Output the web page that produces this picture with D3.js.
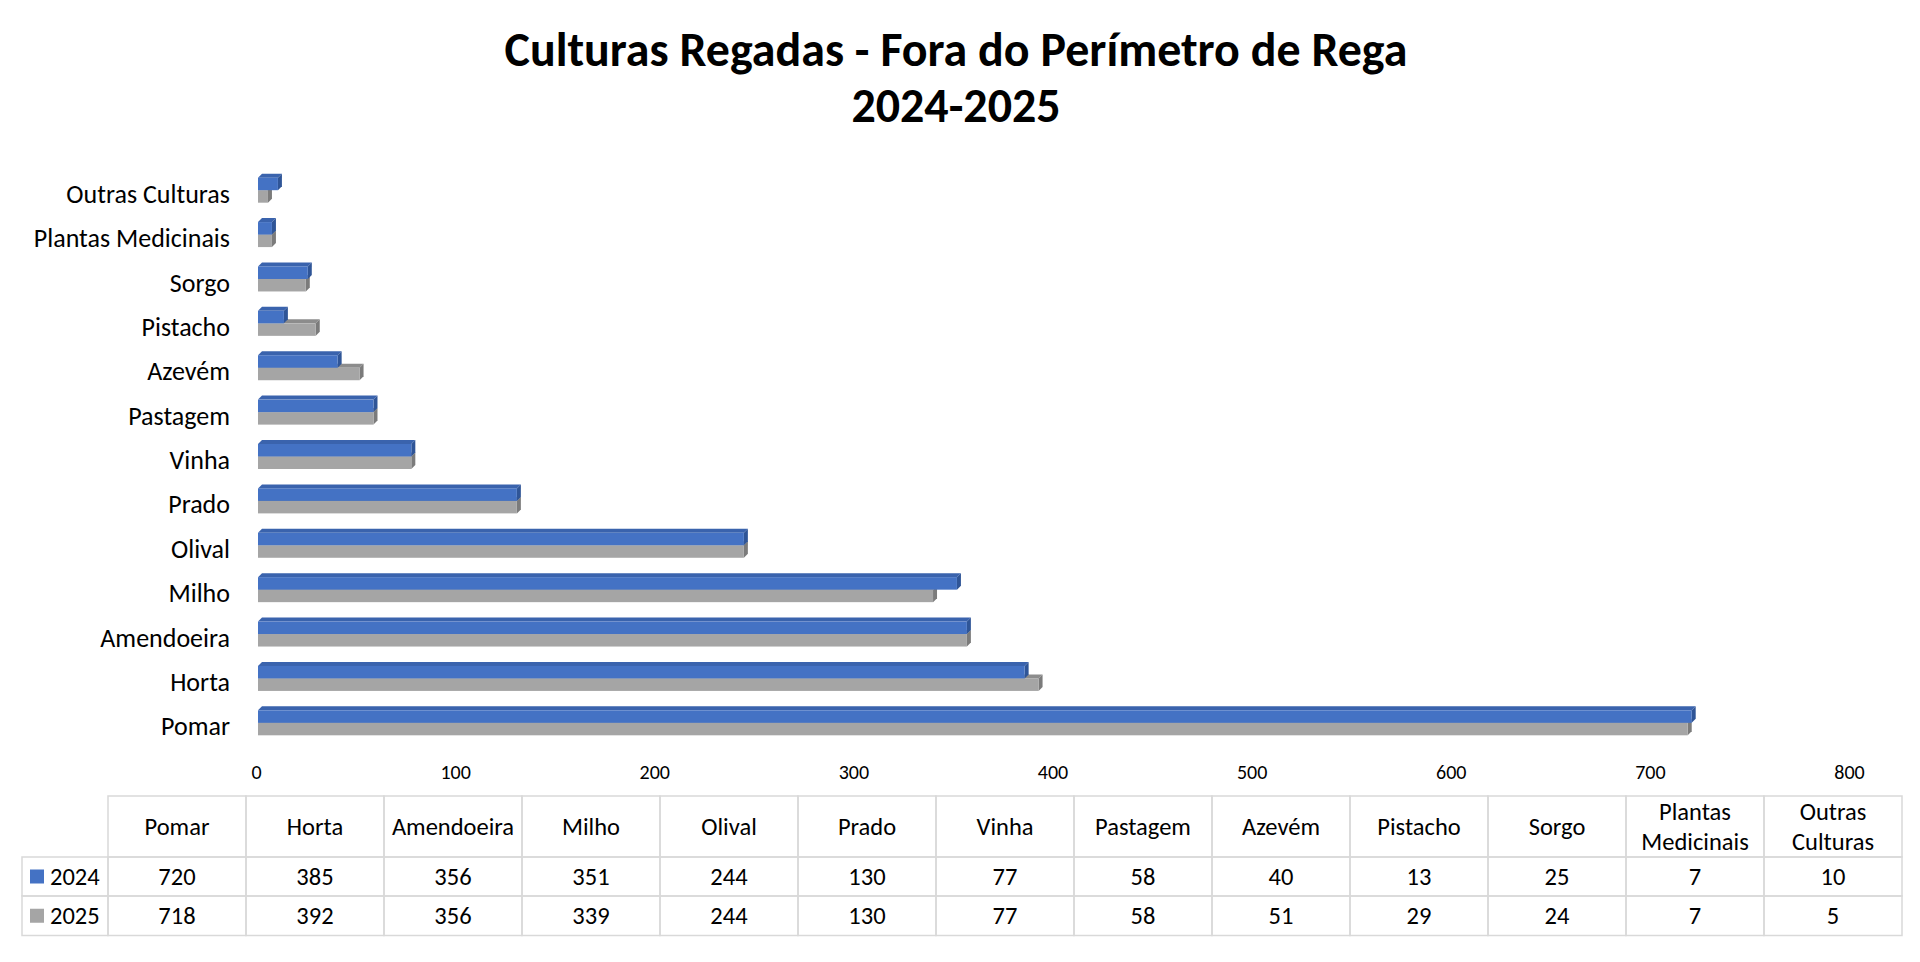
<!DOCTYPE html>
<html>
<head>
<meta charset="utf-8">
<script src="https://cdn.jsdelivr.net/npm/d3@7"></script>
<style>
  body { margin: 0; background: #fff; }
  text { font-family: Calibri, Carlito, Lato, sans-serif; fill: #000; }
</style>
</head>
<body>
<script>
let width = 1920,
    height = 962;

let categories = ["Pomar", "Horta", "Amendoeira", "Milho", "Olival", "Prado", "Vinha",
                  "Pastagem", "Azevém", "Pistacho", "Sorgo", "Plantas Medicinais", "Outras Culturas"];
let values2024 = [720, 385, 356, 351, 244, 130, 77, 58, 40, 13, 25, 7, 10];
let values2025 = [718, 392, 356, 339, 244, 130, 77, 58, 51, 29, 24, 7, 5];
let years = ["2024", "2025"];
let xTicks = [0, 100, 200, 300, 400, 500, 600, 700, 800];

let series = [
  {name: years[1], values: values2025, front: "#a5a5a5", top: "#8c8c8c", side: "#7b7b7b", off: 0},
  {name: years[0], values: values2024, front: "#4472c4", top: "#3a63ad", side: "#2f5597", off: -1}
];

let svg = d3.select("body")
            .append("svg")
            .attr("width", width)
            .attr("height", height);

// title, two lines
let title1 = svg.append("text")
    .attr("x", 956).attr("y", 66)
    .attr("text-anchor", "middle")
    .style("font-weight", "700")
    .style("font-size", "40px")
    .text("Culturas Regadas - Fora do Perímetro de Rega");
let k = 903 / title1.node().getComputedTextLength();
title1.style("font-size", (40 * k) + "px");

svg.append("text")
    .attr("x", 956).attr("y", 122)
    .attr("text-anchor", "middle")
    .style("font-weight", "700")
    .style("font-size", (40 * k) + "px")
    .text("2024-2025");

var xScale = d3.scaleLinear()
               .domain([0, 800])
               .range([256, 1849]);

var yScale = d3.scaleBand()
               .domain(categories)
               .range([748.5, 171.5]);

let bw = yScale.bandwidth();
let barH = 12.5,
    depth = 4;

// category labels
svg.append("g")
   .selectAll("text")
   .data(categories)
   .enter()
   .append("text")
   .attr("x", 230)
   .attr("y", function(d) { return yScale(d) + bw / 2; })
   .attr("dy", "0.35em")
   .attr("text-anchor", "end")
   .style("font-size", "26px")
   .text(function(d) { return d; });

// 3D-looking bars: front face, top face, right side face
series.forEach(function(s) {
  let g = svg.append("g");
  let rows = categories.map(function(c, i) {
    let bc = yScale(c) + bw / 2 - 3.5;
    let y0 = s.off < 0 ? bc - barH : bc;
    return {x0: xScale(0) + 2, x1: xScale(s.values[i]) + 2, y0: y0, y1: y0 + barH};
  });

  g.selectAll(".top")
   .data(rows)
   .enter()
   .append("path")
   .attr("fill", s.top)
   .attr("d", function(d) {
     return "M" + d.x0 + "," + d.y0 + "L" + (d.x0 + depth) + "," + (d.y0 - depth) +
            "L" + (d.x1 + depth) + "," + (d.y0 - depth) + "L" + d.x1 + "," + d.y0 + "Z";
   });

  g.selectAll(".side")
   .data(rows)
   .enter()
   .append("path")
   .attr("fill", s.side)
   .attr("d", function(d) {
     return "M" + d.x1 + "," + d.y0 + "L" + (d.x1 + depth) + "," + (d.y0 - depth) +
            "L" + (d.x1 + depth) + "," + (d.y1 - depth) + "L" + d.x1 + "," + d.y1 + "Z";
   });

  g.selectAll("rect")
   .data(rows)
   .enter()
   .append("rect")
   .attr("fill", s.front)
   .attr("x", function(d) { return d.x0; })
   .attr("y", function(d) { return d.y0; })
   .attr("width", function(d) { return d.x1 - d.x0; })
   .attr("height", barH);
});

// x axis, labels only
var xAxis = d3.axisBottom().scale(xScale).tickValues(xTicks).tickSize(0).tickPadding(0);
let ax = svg.append("g")
   .attr("transform", "translate(0,765)")
   .call(xAxis);
ax.select(".domain").remove();
ax.selectAll("text")
  .style("font-size", "20px")
  .style("font-family", "Calibri, Carlito, Lato, sans-serif")
  .attr("fill", "#000");

// data table under the chart
var colScale = d3.scaleBand()
                 .domain(categories)
                 .range([108, 1902]);
let cw = colScale.bandwidth();
let tLeft = 22,
    rowTops = [796, 857, 896, 935.5];
let border = "#d9d9d9";

let table = svg.append("g");

// header cells
table.selectAll(".hcell")
     .data(categories)
     .enter()
     .append("rect")
     .attr("x", function(d) { return colScale(d); })
     .attr("y", rowTops[0])
     .attr("width", cw)
     .attr("height", rowTops[1] - rowTops[0])
     .attr("fill", "none")
     .attr("stroke", border)
     .attr("stroke-width", 1.5);

table.selectAll(".htext")
     .data(categories)
     .enter()
     .append("text")
     .attr("text-anchor", "middle")
     .style("font-size", "24.5px")
     .each(function(d) {
       let words = d.split(" ");
       let cx = colScale(d) + cw / 2;
       let mid = (rowTops[0] + rowTops[1]) / 2;
       let t = d3.select(this);
       if (words.length === 1) {
         t.append("tspan").attr("x", cx).attr("y", mid).attr("dy", "0.35em").text(d);
       } else {
         t.append("tspan").attr("x", cx).attr("y", mid - 15).attr("dy", "0.35em").text(words[0]);
         t.append("tspan").attr("x", cx).attr("y", mid + 15).attr("dy", "0.35em").text(words[1]);
       }
     });

// value rows
[values2024, values2025].forEach(function(vals, r) {
  let top = rowTops[r + 1],
      bot = rowTops[r + 2],
      mid = (top + bot) / 2;
  let s = series[1 - r];

  table.append("rect")
       .attr("x", tLeft).attr("y", top)
       .attr("width", 108 - tLeft).attr("height", bot - top)
       .attr("fill", "none").attr("stroke", border).attr("stroke-width", 1.5);

  table.append("rect")
       .attr("x", 30).attr("y", mid - 7)
       .attr("width", 14).attr("height", 14)
       .attr("fill", s.front);

  table.append("text")
       .attr("x", 50).attr("y", mid).attr("dy", "0.35em")
       .style("font-size", "24.5px")
       .text(years[r]);

  table.selectAll(".cell" + r)
       .data(categories)
       .enter()
       .append("rect")
       .attr("x", function(d) { return colScale(d); })
       .attr("y", top)
       .attr("width", cw)
       .attr("height", bot - top)
       .attr("fill", "none")
       .attr("stroke", border)
       .attr("stroke-width", 1.5);

  table.selectAll(".val" + r)
       .data(categories)
       .enter()
       .append("text")
       .attr("x", function(d) { return colScale(d) + cw / 2; })
       .attr("y", mid)
       .attr("dy", "0.35em")
       .attr("text-anchor", "middle")
       .style("font-size", "24.5px")
       .text(function(d, i) { return vals[i]; });
});
</script>
</body>
</html>
